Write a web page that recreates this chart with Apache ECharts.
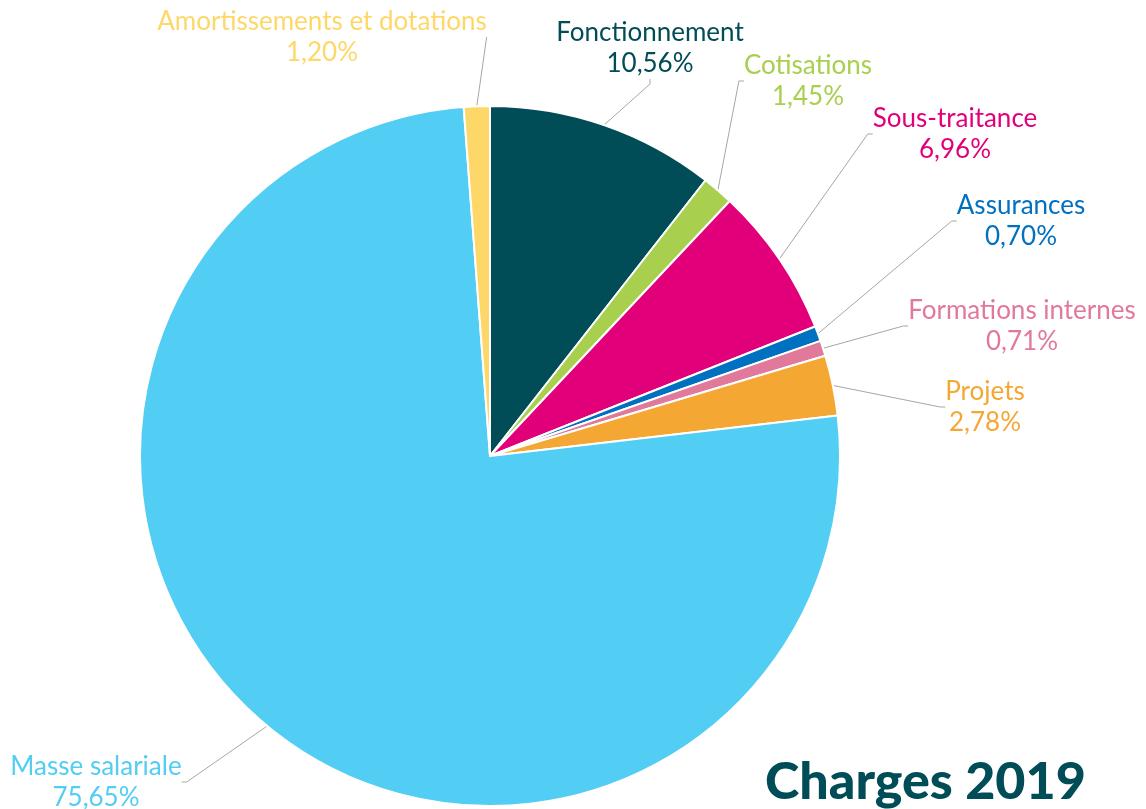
<!DOCTYPE html>
<html><head><meta charset="utf-8">
<script src="https://cdn.jsdelivr.net/npm/echarts@6/dist/echarts.min.js"></script>
<style>html,body{margin:0;padding:0;background:#fff}#c{width:1146px;height:809px}</style>
</head><body><div id="c"></div>
<script>
const categories = ['Fonctionnement','Cotisations','Sous-traitance','Assurances','Formations internes','Projets','Masse salariale','Amortissements et dotations'];
const values = [10.56, 1.45, 6.96, 0.70, 0.71, 2.78, 75.65, 1.20];
const colors = ['#004c57','#a9cf4f','#e2007a','#0070c0','#e0799a','#f4a733','#52cdf4','#fdd868'];
const labelPos = [[650,48],[808,81],[955,134],[1021,221],[1022,326],[985,407],[96,782],[322,37]];

const chart = echarts.init(document.getElementById('c'));
chart.setOption({
  animation:false,
  title:{text:'Charges 2019', left:765, top:756, padding:0,
    textStyle:{fontFamily:'Lato', fontWeight:900, fontSize:52, color:'#004c57'}},
  series:[{
    type:'pie', center:[490,456], radius:350, startAngle:90, clockwise:true,
    data: categories.map((c,i)=>({name:c, value:values[i], itemStyle:{color:colors[i]},
      label:{color:colors[i]}})),
    itemStyle:{borderColor:'#fff', borderWidth:2},
    label:{show:true, position:'outside', fontFamily:'Lato', fontSize:26, lineHeight:31, align:'center',
      formatter: p => p.name + '\n' + p.value.toFixed(2).replace('.', ',') + '%'},
    labelLine:{show:true, length:20, length2:5, lineStyle:{color:'#a6a6a6', width:1}},
    labelLayout: p => ({x:labelPos[p.dataIndex][0], y:labelPos[p.dataIndex][1], align:'center', verticalAlign:'middle'})
  }]
});
</script></body></html>
